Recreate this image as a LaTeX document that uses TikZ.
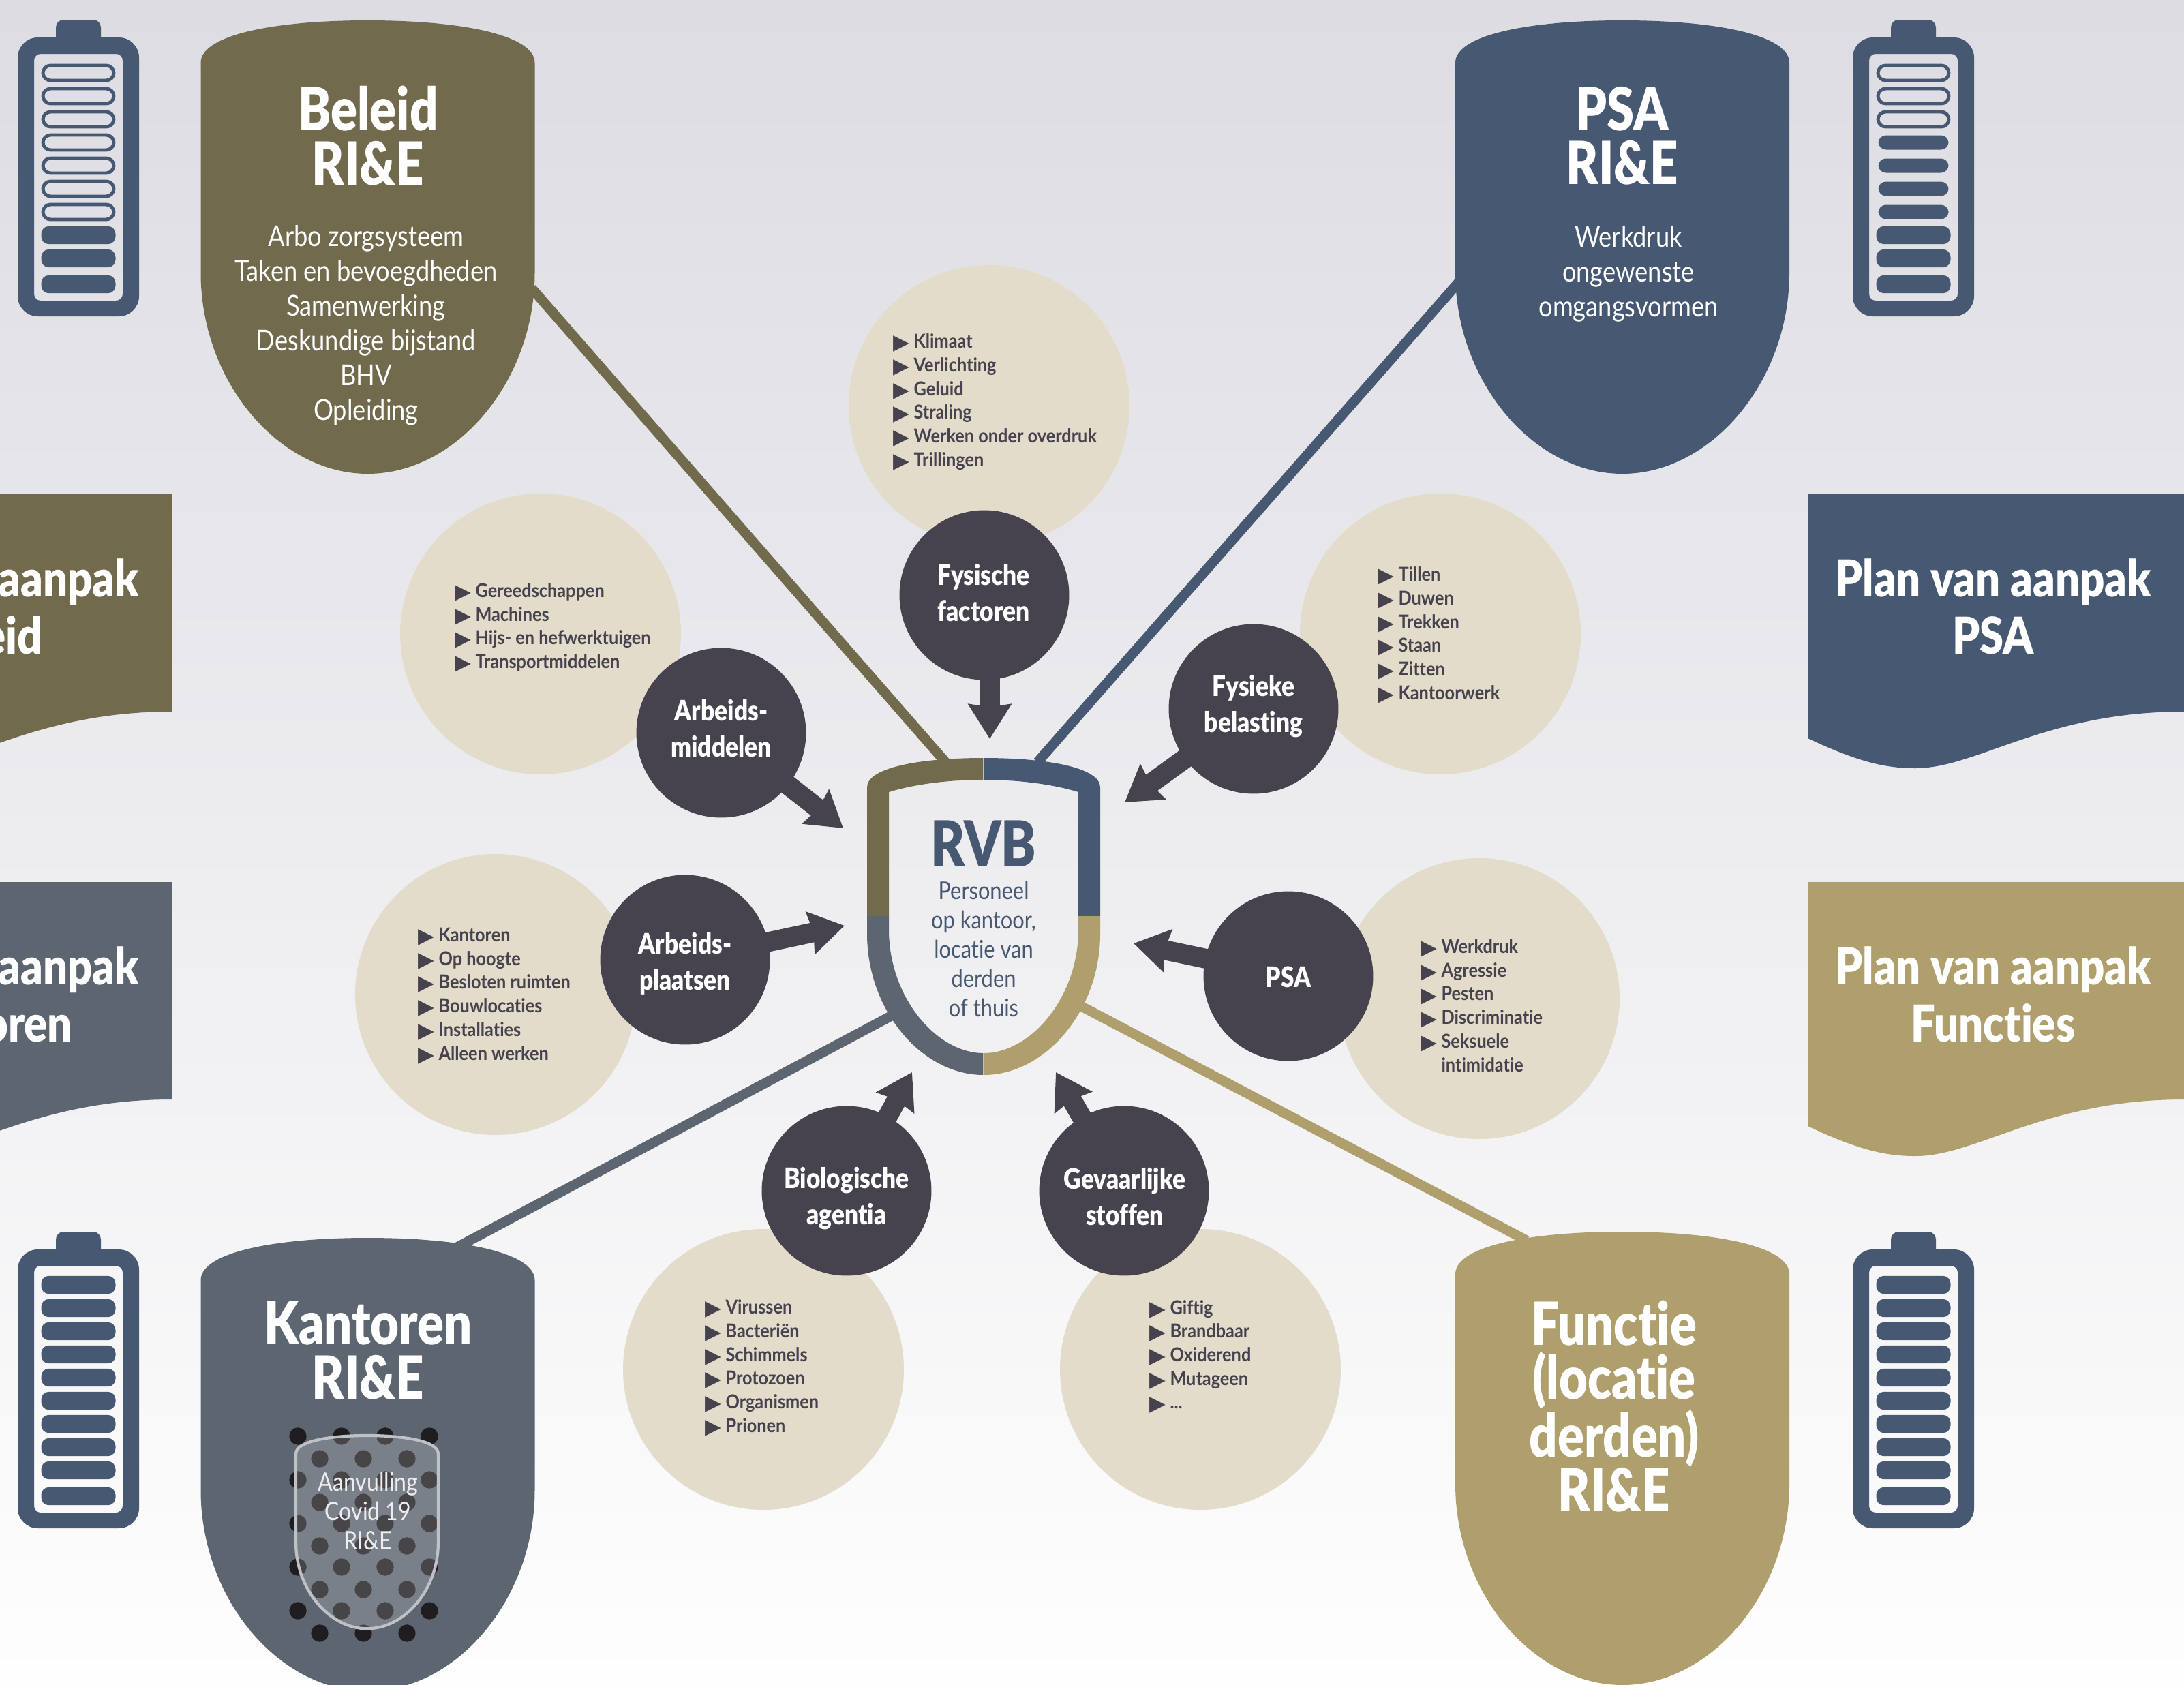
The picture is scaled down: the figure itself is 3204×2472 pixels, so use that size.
\documentclass[tikz,border=0pt]{standalone}
\usepackage{fontspec}
\usetikzlibrary{arrows.meta}
\setmainfont[FakeStretch=0.86,Ligatures=NoCommon]{Lato}
\newfontfamily\blk[FakeStretch=0.83,Ligatures=NoCommon]{Lato Black}
\newfontfamily\blkw[FakeStretch=0.85,Ligatures=NoCommon]{Lato Black}
\newfontfamily\bld[FakeStretch=0.9,Ligatures=NoCommon]{Lato Bold}
\newfontfamily\dej{DejaVu Sans}
\definecolor{olive}{HTML}{716A4D}
\definecolor{navy}{HTML}{475872}
\definecolor{slate}{HTML}{5D6570}
\definecolor{gold}{HTML}{AF9F6C}
\definecolor{darkc}{HTML}{46434F}
\definecolor{beige}{HTML}{E3DCCB}
\definecolor{dotc}{HTML}{1F1D1F}
\tikzset{
  beigec/.style={circle,fill=beige,minimum size=293pt,inner sep=0pt},
  darkn/.style={circle,fill=darkc,minimum size=177pt,inner sep=0pt},
  darkt/.style={inner sep=0pt,text=white,align=center,font=\fontsize{29.5}{37.7}\selectfont\blkw},
  arrowc/.style={darkc,line width=20.6pt,-{Stealth[length=36pt,width=44pt,inset=3pt]}},
  conn/.style={line width=10.3pt},
  title/.style={text=white,align=center,inner sep=0pt,font=\fontsize{62}{56.5}\selectfont\blk},
  body/.style={text=white,align=center,inner sep=0pt,font=\fontsize{30}{36.3}\selectfont},
  plan/.style={text=white,align=center,inner sep=0pt,font=\fontsize{53}{59.7}\selectfont\blkw},
  listn/.style={text=darkc,align=left,anchor=west,inner sep=0pt,font=\fontsize{20}{24.7}\selectfont\bld},
  celle/.style={navy,line width=3.5pt,rounded corners=8pt},
}
\newcommand\bul{\makebox[21.5pt][l]{\raisebox{-1.5pt}{\dej\fontsize{22}{22}\selectfont▶}}}
\newcommand\nobul{\makebox[21.5pt][l]{}}
\def\bigshield{(0,0) .. controls (-140,0) and (-245,22) .. (-245,62) -- (-245,370) .. controls (-245,530) and (-130,665) .. (0,665) .. controls (130,665) and (245,530) .. (245,370) -- (245,62) .. controls (245,22) and (140,0) .. (0,0) -- cycle}
\def\rvbouter{(0,0) .. controls (-98,0) and (-171,15) .. (-171,43) -- (-171,258) .. controls (-171,370) and (-91,465) .. (0,465) .. controls (91,465) and (171,370) .. (171,258) -- (171,43) .. controls (171,15) and (98,0) .. (0,0) -- cycle}
\def\rvbinner{(0,32) .. controls (-50,32) and (-100,38) .. (-139,50) -- (-139,252) .. controls (-139,350) and (-70,433) .. (0,433) .. controls (70,433) and (139,350) .. (139,252) -- (139,50) .. controls (100,38) and (50,32) .. (0,32) -- cycle}
\newcommand\battery[3]{%
 \begin{scope}[shift={(#1,#2)}]
  \fill[navy,rounded corners=8pt] (-33,45) -- (-33,0) -- (33,0) -- (33,45) -- cycle;
  \fill[navy,even odd rule] [rounded corners=21pt] (-89,26) rectangle (89,435) [rounded corners=7pt] (-65,50) rectangle (65,412);
  \foreach \cy/\k in {#3}{%
    \if\k e\draw[celle] (-52,\cy-11) rectangle (52,\cy+11);\fi
    \if\k s\fill[navy,rounded corners=8pt] (-51.5,\cy-10.5) rectangle (51.5,\cy+10.5);\fi
    \if\k f\fill[navy,rounded corners=8pt] (-54.5,\cy-13.2) rectangle (54.5,\cy+13.2);\fi
  }
 \end{scope}}
\newcommand\banner[3]{%
 \fill[#1,shift={(#2,#3)}] (2652,1083) .. controls (2730,1120) and (2770,1127) .. (2810,1127) .. controls (2900,1127) and (3000,1044) .. (3204,1044) -- (3204,725) -- (2652,725) -- cycle;
 }
\begin{document}
\begin{tikzpicture}[x=0.025cm,y=-0.025cm]
\useasboundingbox (0,0) rectangle (3204,2472);
\clip (0,0) rectangle (3204,2472);
\shade[top color={rgb,255:red,220;green,220;blue,226},middle color={rgb,255:red,235;green,236;blue,240},bottom color={rgb,255:red,254;green,254;blue,254}] (0,0) rectangle (3204,2472);
% connector end points
\coordinate (bEnd) at (780,423);
\coordinate (pEnd) at (2140,414);
\coordinate (kEnd) at (670,1830);
\coordinate (fEnd) at (2240,1820);
\coordinate (rNW) at (1387,1118);
\coordinate (rNE) at (1522,1118);
\coordinate (rSW) at (1310,1489);
\coordinate (rSE) at (1582,1474);
\draw[conn,olive] (bEnd) -- (rNW);
\draw[conn,navy] (pEnd) -- (rNE);
\draw[conn,slate] (kEnd) -- (rSW);
\draw[conn,gold] (fEnd) -- (rSE);
% shields
\begin{scope}[shift={(539.5,30)}]\fill[olive] \bigshield;\end{scope}
\begin{scope}[shift={(2380,30)}]\fill[navy] \bigshield;\end{scope}
\begin{scope}[shift={(539.5,1816)}]\fill[slate] \bigshield;\end{scope}
\begin{scope}[shift={(2380,1807)}]\fill[gold] \bigshield;\end{scope}
% shield texts
\node[title] (tb) at (540,199) {Beleid\\RI\&E};
\node[body] (bb) at (537,477) {Arbo zorgsysteem\\Taken en bevoegdheden\\Samenwerking\\Deskundige bijstand\\BHV\\Opleiding};
\node[title] (tp) at (2380,199) {PSA\\RI\&E};
\node[body] (bp) at (2389,402) {Werkdruk\\ongewenste\\omgangsvormen};
\node[title] (tk) at (540,1981) {Kantoren\\RI\&E};
\node[title] (tf) at (2368,2063) {Functie\\(locatie\\derden)\\RI\&E};
% dots + covid shield
\foreach \yy in {2107,2171,2235,2299,2363}{\foreach \xx in {437,501,565,630}{\fill[dotc] (\xx,\yy) circle (12.7);}}
\foreach \yy in {2140,2204,2268,2332,2396}{\foreach \xx in {469,533,597}{\fill[dotc] (\xx,\yy) circle (12.7);}}
\begin{scope}[shift={(538.5,2106)},scale=0.426]
 \fill[white,fill opacity=0.18] \bigshield;
 \draw[white!60!slate,line width=3pt] \bigshield;
\end{scope}
\node[text=white!93!black,align=center,inner sep=0pt,font=\fontsize{26.5}{30.6}\selectfont] (covid) at (540,2217) {Aanvulling\\Covid 19\\RI\&E};
% batteries
\battery{115}{29}{78/e,112/e,146/e,180/e,214/e,248/e,282/e,316/f,350/f,388/f}
\battery{2807}{29}{78/e,112/e,146/e,180/s,214/s,248/s,282/s,316/f,350/f,388/f}
\battery{115}{1807}{78/f,112/f,146/f,180/f,214/f,248/f,282/f,316/f,350/f,388/f}
\battery{2807}{1807}{78/f,112/f,146/f,180/f,214/f,248/f,282/f,316/f,350/f,388/f}
% banners
\banner{olive}{-2952}{0}
\banner{slate}{-2952}{569}
\banner{navy}{0}{0}
\banner{gold}{0}{569}
\node[plan] (p1) at (-28,890) {Plan van aanpak\\Beleid};
\node[plan] (p2) at (-28,1459) {Plan van aanpak\\Kantoren};
\node[plan] (p3) at (2924,890) {Plan van aanpak\\PSA};
\node[plan] (p4) at (2924,1459) {Plan van aanpak\\Functies};
% RVB shield
\begin{scope}[shift={(1443,1112)}]
 \begin{scope}\clip (-200,-5) rectangle (-0.7,231.5);\fill[olive,even odd rule] \rvbouter \rvbinner;\end{scope}
 \begin{scope}\clip (0.7,-5) rectangle (200,231.5);\fill[navy,even odd rule] \rvbouter \rvbinner;\end{scope}
 \begin{scope}\clip (-200,232.5) rectangle (-0.7,480);\fill[slate,even odd rule] \rvbouter \rvbinner;\end{scope}
 \begin{scope}\clip (0.7,232.5) rectangle (200,480);\fill[gold,even odd rule] \rvbouter \rvbinner;\end{scope}
\end{scope}
\node[text=navy,inner sep=0pt,font=\fontsize{66}{68}\selectfont\blk] (rvb) at (1443,1238) {RVB};
\node[text=navy,align=center,inner sep=0pt,font=\fontsize{25.5}{30.6}\selectfont] (rvbt) at (1443,1392) {Personeel\\op kantoor,\\locatie van\\derden\\of thuis};
% beige circles
\node[beigec] (c1) at (1451,595) {};
\node[beigec] (c2) at (793,930) {};
\node[beigec] (c3) at (2113,930) {};
\node[beigec] (c4) at (727,1459) {};
\node[beigec] (c5) at (2170,1465) {};
\node[beigec] (c6) at (1120,2009) {};
\node[beigec] (c7) at (1761,2009) {};
% arrow tips
\coordinate (a1) at (1452,1084);
\coordinate (a2) at (1237,1215);
\coordinate (a3) at (1650,1177);
\coordinate (a4) at (1239,1358);
\coordinate (a5) at (1663,1384);
\coordinate (a6) at (1338,1573);
\coordinate (a7) at (1549,1573);
% dark circles
\coordinate (d1c) at (1444,873);
\coordinate (d1s) at (1452,873);
\coordinate (d2c) at (1058,1075);
\coordinate (d3c) at (1839,1040);
\coordinate (d4c) at (1005,1408);
\coordinate (d5c) at (1890,1432);
\coordinate (d6c) at (1242,1747);
\coordinate (d7c) at (1649,1747);
\draw[arrowc] (d1s) -- (a1);
\draw[arrowc] (d2c) -- (a2);
\draw[arrowc] (d3c) -- (a3);
\draw[arrowc] (d4c) -- (a4);
\draw[arrowc] (d5c) -- (a5);
\draw[arrowc] (d6c) -- (a6);
\draw[arrowc] (d7c) -- (a7);
\node[darkn] (d1) at (d1c) {};
\node[darkn] (d2) at (d2c) {};
\node[darkn] (d3) at (d3c) {};
\node[darkn] (d4) at (d4c) {};
\node[darkn] (d5) at (d5c) {};
\node[darkn] (d6) at (d6c) {};
\node[darkn] (d7) at (d7c) {};
\node[darkt] (t1) at (1443,870) {Fysische\\factoren};
\node[darkt] (t2) at (1058,1069) {Arbeids-\\middelen};
\node[darkt] (t3) at (1839,1036) {Fysieke\\belasting};
\node[darkt] (t4) at (1005,1414) {Arbeids-\\plaatsen};
\node[darkt] (t5) at (1890,1433) {PSA};
\node[darkt] (t6) at (1242,1758) {Biologische\\agentia};
\node[darkt] (t7) at (1650,1756) {Gevaarlijke\\stoffen};
% lists
\node[listn] (l1) at (1310,590) {\bul Klimaat\\\bul Verlichting\\\bul Geluid\\\bul Straling\\\bul Werken onder overdruk\\\bul Trillingen};
\node[listn] (l2) at (667,921) {\bul Gereedschappen\\\bul Machines\\\bul Hijs- en hefwerktuigen\\\bul Transportmiddelen};
\node[listn] (l3) at (2021,932) {\bul Tillen\\\bul Duwen\\\bul Trekken\\\bul Staan\\\bul Zitten\\\bul Kantoorwerk};
\node[listn] (l4) at (613,1461) {\bul Kantoren\\\bul Op hoogte\\\bul Besloten ruimten\\\bul Bouwlocaties\\\bul Installaties\\\bul Alleen werken};
\node[listn] (l5) at (2084,1475) {\bul Werkdruk\\\bul Agressie\\\bul Pesten\\\bul Discriminatie\\\bul Seksuele\\\nobul intimidatie};
\node[listn] (l6) at (1034,2007) {\bul Virussen\\\bul Bacteriën\\\bul Schimmels\\\bul Protozoen\\\bul Organismen\\\bul Prionen};
\node[listn] (l7) at (1686,1990) {\bul Giftig\\\bul Brandbaar\\\bul Oxiderend\\\bul Mutageen\\\bul ...};
\end{tikzpicture}
\end{document}
